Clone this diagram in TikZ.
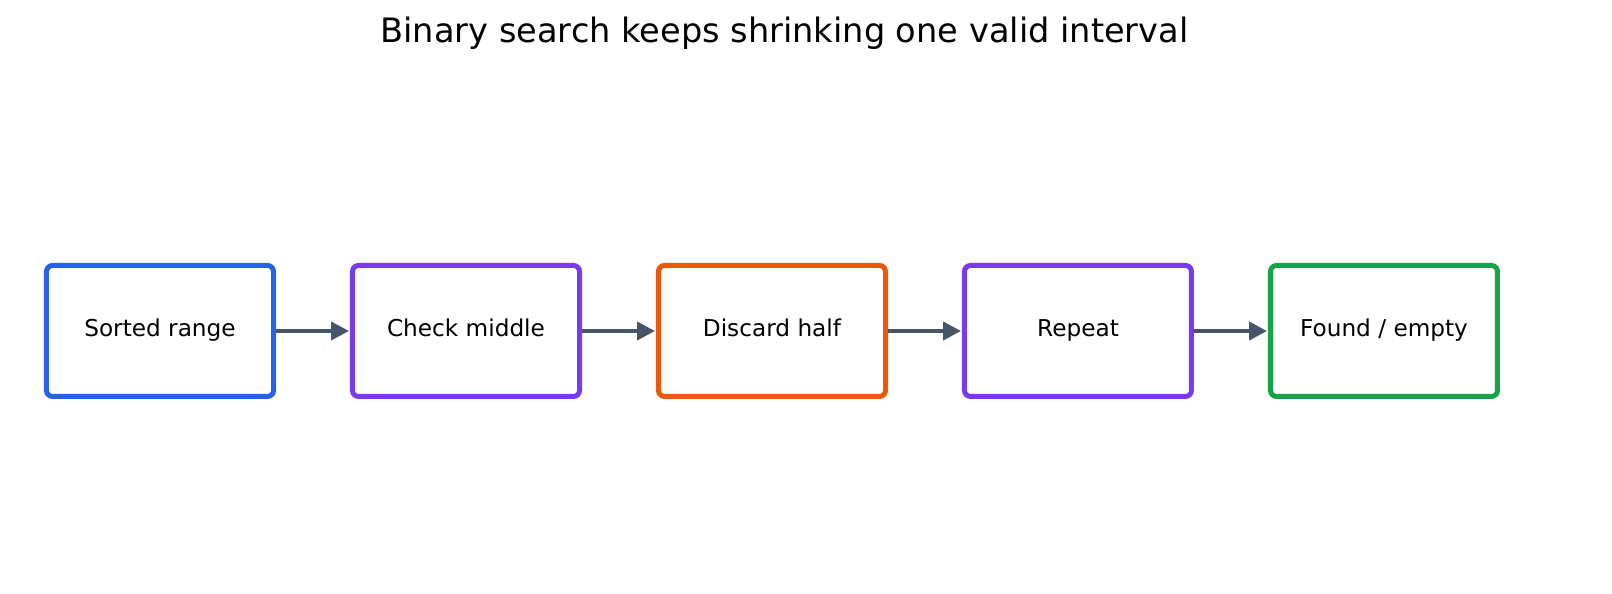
\documentclass[tikz,border=0pt]{standalone}
\usepackage{fontspec}
\setmainfont{DejaVu Sans}
\usepackage{tikz}
\usetikzlibrary{matrix, arrows.meta}

\definecolor{stepblue}{HTML}{2563EB}
\definecolor{steppurple}{HTML}{7C3AED}
\definecolor{steporange}{HTML}{EA580C}
\definecolor{stepgreen}{HTML}{16A34A}
\definecolor{arrowgray}{HTML}{475569}

\tikzset{
  stage/.style = {draw, line width = 2.5pt, rounded corners = 3pt, fill = white,
    minimum width = 113.5pt, minimum height = 65.5pt, inner sep = 0pt,
    text height = 0.73em, text depth = 0.2em,
    font = \fontsize{11.6pt}{14pt}\selectfont},
  flow/.style = {-{Triangle[length = 9pt, width = 9pt]}, line width = 2pt, draw = arrowgray, shorten >= 0.5pt}
}

\begin{document}
\begin{tikzpicture}
\useasboundingbox (0,0) rectangle (806pt,297pt);
\node (title) at (392.25pt,280.5pt) {\fontsize{16.8pt}{20pt}\selectfont Binary search keeps shrinking one valid interval};
\matrix (m) at (386pt,131.5pt) [column sep = 37pt, inner sep = 0pt]{
\node[stage, draw = stepblue](s1){Sorted range}; &
\node[stage, draw = steppurple](s2){Check middle}; &
\node[stage, draw = steporange](s3){Discard half}; &
\node[stage, draw = steppurple](s4){Repeat}; &
\node[stage, draw = stepgreen](s5){Found / empty}; \\
};
\draw[flow] (s1.east) -- (s2.west);
\draw[flow] (s2.east) -- (s3.west);
\draw[flow] (s3.east) -- (s4.west);
\draw[flow] (s4.east) -- (s5.west);
\end{tikzpicture}
\end{document}
